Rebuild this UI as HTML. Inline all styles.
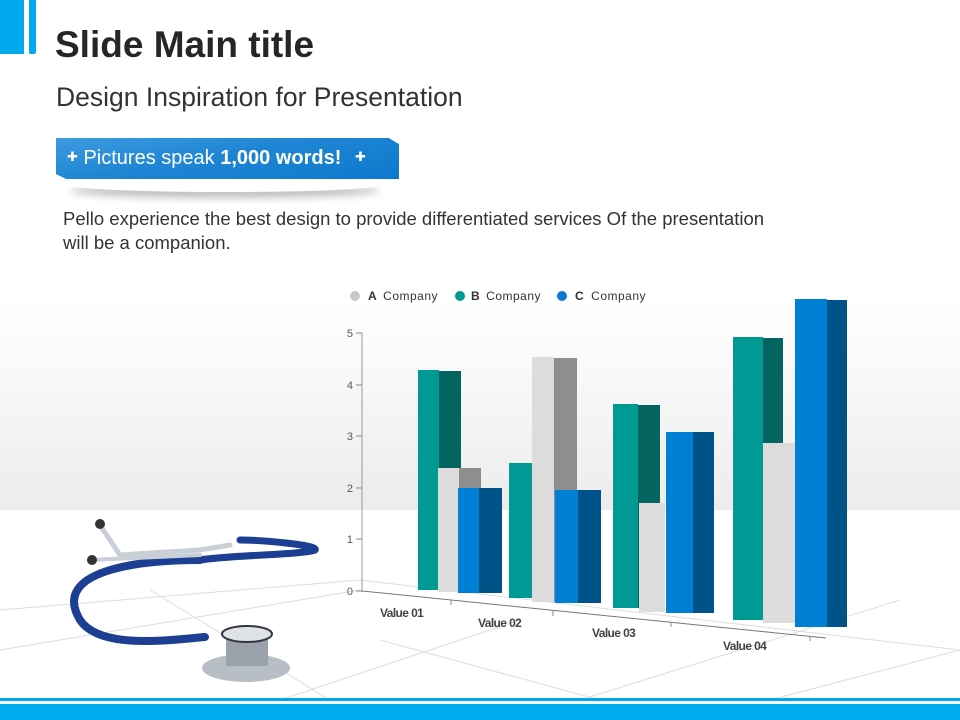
<!DOCTYPE html>
<html><head><meta charset="utf-8"><style>
body{margin:0;width:960px;height:720px;overflow:hidden;position:relative;background:#fff;font-family:"Liberation Sans",sans-serif}
.abs{position:absolute}
</style></head><body>
<div class="abs" style="left:0;top:300px;width:960px;height:210px;background:linear-gradient(#fff,#ececec)"></div>
<div class="abs" style="left:0;top:0;width:24px;height:54px;background:#00a9ec"></div>
<div class="abs" style="left:29px;top:0;width:7px;height:54px;background:#00a9ec;border-radius:0 0 2px 2px"></div>
<div class="abs" style="left:55px;top:24px;font-size:37px;font-weight:bold;color:#262626">Slide Main title</div>
<div class="abs" style="left:56px;top:82px;font-size:26.5px;color:#333">Design Inspiration for Presentation</div>
<div class="abs" style="left:70px;top:178px;width:310px;height:14px;border-radius:50%;box-shadow:0 6px 8px rgba(0,0,0,0.25)"></div>
<div class="abs" style="left:56px;top:138px;width:343px;height:41px;background:linear-gradient(170deg,#3c9be0 0%,#1f86d4 45%,#0c78cc 100%);clip-path:polygon(0 0,97% 0,100% 15%,100% 100%,3% 100%,0 88%)"></div>
<div class="abs" style="left:67px;top:147px;font-size:20px;color:#fff;white-space:nowrap"><span style="font-size:13px;vertical-align:3px">✚</span> Pictures speak <b>1,000 words!</b> <span style="font-size:13px;vertical-align:3px;margin-left:8px">✚</span></div>
<div class="abs" style="left:63px;top:207px;font-size:18.5px;line-height:24px;color:#333;width:800px;white-space:nowrap">Pello experience the best design to provide differentiated services Of the presentation<br>will be a companion.</div>
<svg class="abs" style="left:0;top:0" width="960" height="720">
<g stroke="#ddd" stroke-width="1" fill="none">
<line x1="0" y1="650" x2="360" y2="590"/><line x1="0" y1="610" x2="360" y2="580"/>
<line x1="150" y1="590" x2="330" y2="700"/><line x1="280" y1="700" x2="520" y2="620"/>
<line x1="580" y1="700" x2="900" y2="600"/><line x1="770" y1="700" x2="960" y2="650"/>
<line x1="360" y1="580" x2="960" y2="650"/><line x1="380" y1="640" x2="600" y2="700"/>
</g>
<line x1="362" y1="333" x2="362" y2="592" stroke="#999"/>
<line x1="362" y1="591" x2="826" y2="638" stroke="#777"/>
<g stroke="#888"><line x1="356" y1="333" x2="362" y2="333"/><line x1="356" y1="385" x2="362" y2="385"/><line x1="356" y1="436" x2="362" y2="436"/><line x1="356" y1="488" x2="362" y2="488"/><line x1="356" y1="539" x2="362" y2="539"/><line x1="356" y1="591" x2="362" y2="591"/>
<line x1="451" y1="600" x2="451" y2="605"/><line x1="553" y1="611" x2="553" y2="616"/><line x1="671" y1="622" x2="671" y2="627"/><line x1="810" y1="636" x2="810" y2="641"/></g>
<g font-size="11" fill="#555" text-anchor="end"><text x="353" y="337">5</text><text x="353" y="389">4</text><text x="353" y="440">3</text><text x="353" y="492">2</text><text x="353" y="543">1</text><text x="353" y="595">0</text></g>
<g font-size="12" font-weight="bold" fill="#444" letter-spacing="-0.6"><text x="380" y="617">Value 01</text><text x="478" y="627">Value 02</text><text x="592" y="637">Value 03</text><text x="723" y="650">Value 04</text></g>
<g>
<rect x="418" y="370" width="21" height="220" fill="#009994"/><rect x="439" y="371" width="22" height="220" fill="#036460"/>
<rect x="438" y="468" width="21" height="124" fill="#dcdcdc"/><rect x="459" y="468" width="22" height="124" fill="#8e8e8e"/>
<rect x="458" y="488" width="21" height="105" fill="#0080d4"/><rect x="479" y="488" width="23" height="105" fill="#005389"/>
<rect x="509" y="463" width="23" height="135" fill="#009994"/>
<rect x="532" y="357" width="22" height="245" fill="#dcdcdc"/><rect x="554" y="358" width="23" height="244" fill="#8e8e8e"/>
<rect x="555" y="490" width="23" height="113" fill="#0080d4"/><rect x="578" y="490" width="23" height="113" fill="#005389"/>
<rect x="613" y="404" width="25" height="204" fill="#009994"/><rect x="638" y="405" width="22" height="203" fill="#036460"/>
<rect x="639" y="503" width="26" height="109" fill="#dcdcdc"/>
<rect x="666" y="432" width="27" height="181" fill="#0080d4"/><rect x="693" y="432" width="21" height="181" fill="#005389"/>
<rect x="733" y="337" width="30" height="283" fill="#009994"/><rect x="763" y="338" width="20" height="282" fill="#036460"/>
<rect x="763" y="443" width="32" height="180" fill="#dcdcdc"/>
<rect x="795" y="299" width="32" height="328" fill="#0080d4"/><rect x="827" y="300" width="20" height="327" fill="#005389"/>
</g>
<circle cx="355" cy="296" r="5" fill="#c8c8c8"/><circle cx="460" cy="296" r="5" fill="#009994"/><circle cx="562" cy="296" r="5" fill="#0a78d0"/>
<g font-size="12" fill="#333" letter-spacing="0.5"><text x="368" y="300"><tspan font-weight="bold">A</tspan><tspan dx="6">Company</tspan></text><text x="471" y="300"><tspan font-weight="bold">B</tspan><tspan dx="6">Company</tspan></text><text x="575" y="300"><tspan font-weight="bold">C</tspan><tspan dx="7">Company</tspan></text></g>
<g fill="none" stroke-linecap="round">
<path d="M200 560 C140 560 50 570 80 620 C100 650 170 640 205 637" stroke="#1c3f93" stroke-width="8"/>
<path d="M200 560 C230 555 300 555 315 550 C320 545 260 540 240 540" stroke="#1c3f93" stroke-width="7"/>
<path d="M100 525 L120 555 L200 550 L230 545" stroke="#c9cfd6" stroke-width="5"/>
<path d="M90 560 L200 555" stroke="#c9cfd6" stroke-width="4"/>
</g>
<circle cx="100" cy="524" r="5" fill="#333"/><circle cx="92" cy="560" r="5" fill="#333"/>
<ellipse cx="246" cy="668" rx="44" ry="14" fill="#b8bec6"/>
<rect x="226" y="636" width="42" height="30" fill="#9aa2ac"/>
<ellipse cx="247" cy="634" rx="25" ry="8" fill="#dfe3e8" stroke="#334" stroke-width="2"/>
<rect x="0" y="698" width="960" height="3" fill="#00a9ec"/>
<rect x="0" y="704" width="960" height="16" fill="#00aeef"/>
</svg>
</body></html>
